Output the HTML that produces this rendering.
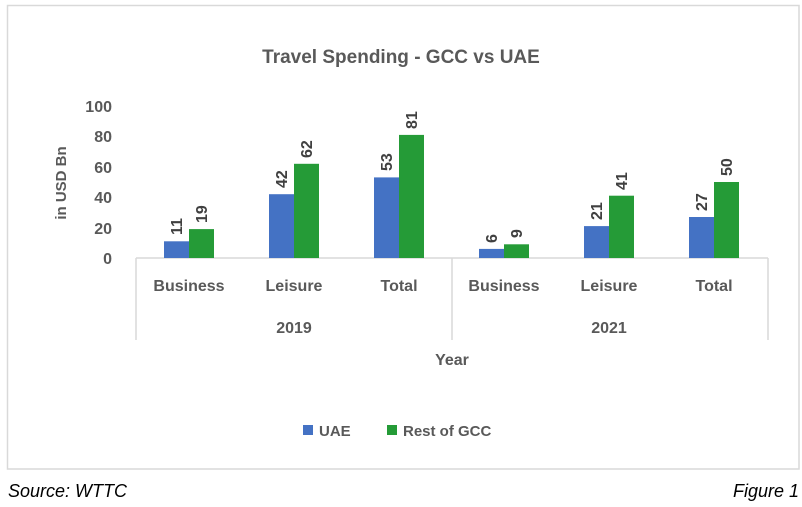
<!DOCTYPE html>
<html><head><meta charset="utf-8"><style>
body{margin:0;background:#fff;}
svg{display:block;font-family:"Liberation Sans",sans-serif;}
</style></head><body>
<svg width="802" height="507" viewBox="0 0 802 507">
<rect x="7.5" y="5.5" width="791.5" height="463.5" fill="#fff" stroke="#d9d9d9" stroke-width="1.5"/>
<text x="401" y="63" text-anchor="middle" font-size="19" font-weight="bold" fill="#595959">Travel Spending - GCC vs UAE</text>
<g font-size="16" font-weight="bold" fill="#595959" text-anchor="end">
<text x="112" y="264">0</text>
<text x="112" y="234">20</text>
<text x="112" y="203">40</text>
<text x="112" y="173">60</text>
<text x="112" y="142">80</text>
<text x="112" y="112">100</text>
</g>
<text transform="translate(66,183) rotate(-90)" text-anchor="middle" font-size="15" font-weight="bold" fill="#595959">in USD Bn</text>
<g stroke="#d9d9d9" stroke-width="1.5" fill="none">
<line x1="136" y1="258" x2="768" y2="258"/>
<line x1="136" y1="258" x2="136" y2="340"/>
<line x1="452" y1="258" x2="452" y2="340"/>
<line x1="768" y1="258" x2="768" y2="340"/>
</g>
<g id="bars">
<rect x="164" y="241.3" width="25" height="16.7" fill="#4472C4"/>
<rect x="189" y="229.1" width="25" height="28.9" fill="#259B37"/>
<rect x="269" y="194.2" width="25" height="63.8" fill="#4472C4"/>
<rect x="294" y="163.8" width="25" height="94.2" fill="#259B37"/>
<rect x="374" y="177.4" width="25" height="80.6" fill="#4472C4"/>
<rect x="399" y="134.9" width="25" height="123.1" fill="#259B37"/>
<rect x="479" y="248.9" width="25" height="9.1" fill="#4472C4"/>
<rect x="504" y="244.3" width="25" height="13.7" fill="#259B37"/>
<rect x="584" y="226.1" width="25" height="31.9" fill="#4472C4"/>
<rect x="609" y="195.7" width="25" height="62.3" fill="#259B37"/>
<rect x="689" y="217" width="25" height="41" fill="#4472C4"/>
<rect x="714" y="182" width="25" height="76" fill="#259B37"/>
</g>
<g font-size="16" font-weight="bold" fill="#404040">
<text transform="translate(182,235) rotate(-90)">11</text>
<text transform="translate(207,223) rotate(-90)">19</text>
<text transform="translate(287,188) rotate(-90)">42</text>
<text transform="translate(312,158) rotate(-90)">62</text>
<text transform="translate(392,171) rotate(-90)">53</text>
<text transform="translate(417,129) rotate(-90)">81</text>
<text transform="translate(497,243) rotate(-90)">6</text>
<text transform="translate(522,238) rotate(-90)">9</text>
<text transform="translate(602,220) rotate(-90)">21</text>
<text transform="translate(627,190) rotate(-90)">41</text>
<text transform="translate(707,211) rotate(-90)">27</text>
<text transform="translate(732,176) rotate(-90)">50</text>
</g>
<g font-size="16" font-weight="bold" fill="#595959" text-anchor="middle">
<text x="189" y="291">Business</text>
<text x="294" y="291">Leisure</text>
<text x="399" y="291">Total</text>
<text x="504" y="291">Business</text>
<text x="609" y="291">Leisure</text>
<text x="714" y="291">Total</text>
<text x="294" y="333">2019</text>
<text x="609" y="333">2021</text>
<text x="452" y="365">Year</text>
</g>
<rect x="303" y="425" width="10" height="10" fill="#4472C4"/>
<text x="319" y="436" font-size="15" font-weight="bold" fill="#595959">UAE</text>
<rect x="387" y="425" width="10" height="10" fill="#259B37"/>
<text x="403" y="436" font-size="15" font-weight="bold" fill="#595959">Rest of GCC</text>
<text x="8" y="497" font-size="18" font-style="italic" fill="#000">Source: WTTC</text>
<text x="799" y="497" font-size="18" font-style="italic" fill="#000" text-anchor="end">Figure 1</text>
</svg>
</body></html>
